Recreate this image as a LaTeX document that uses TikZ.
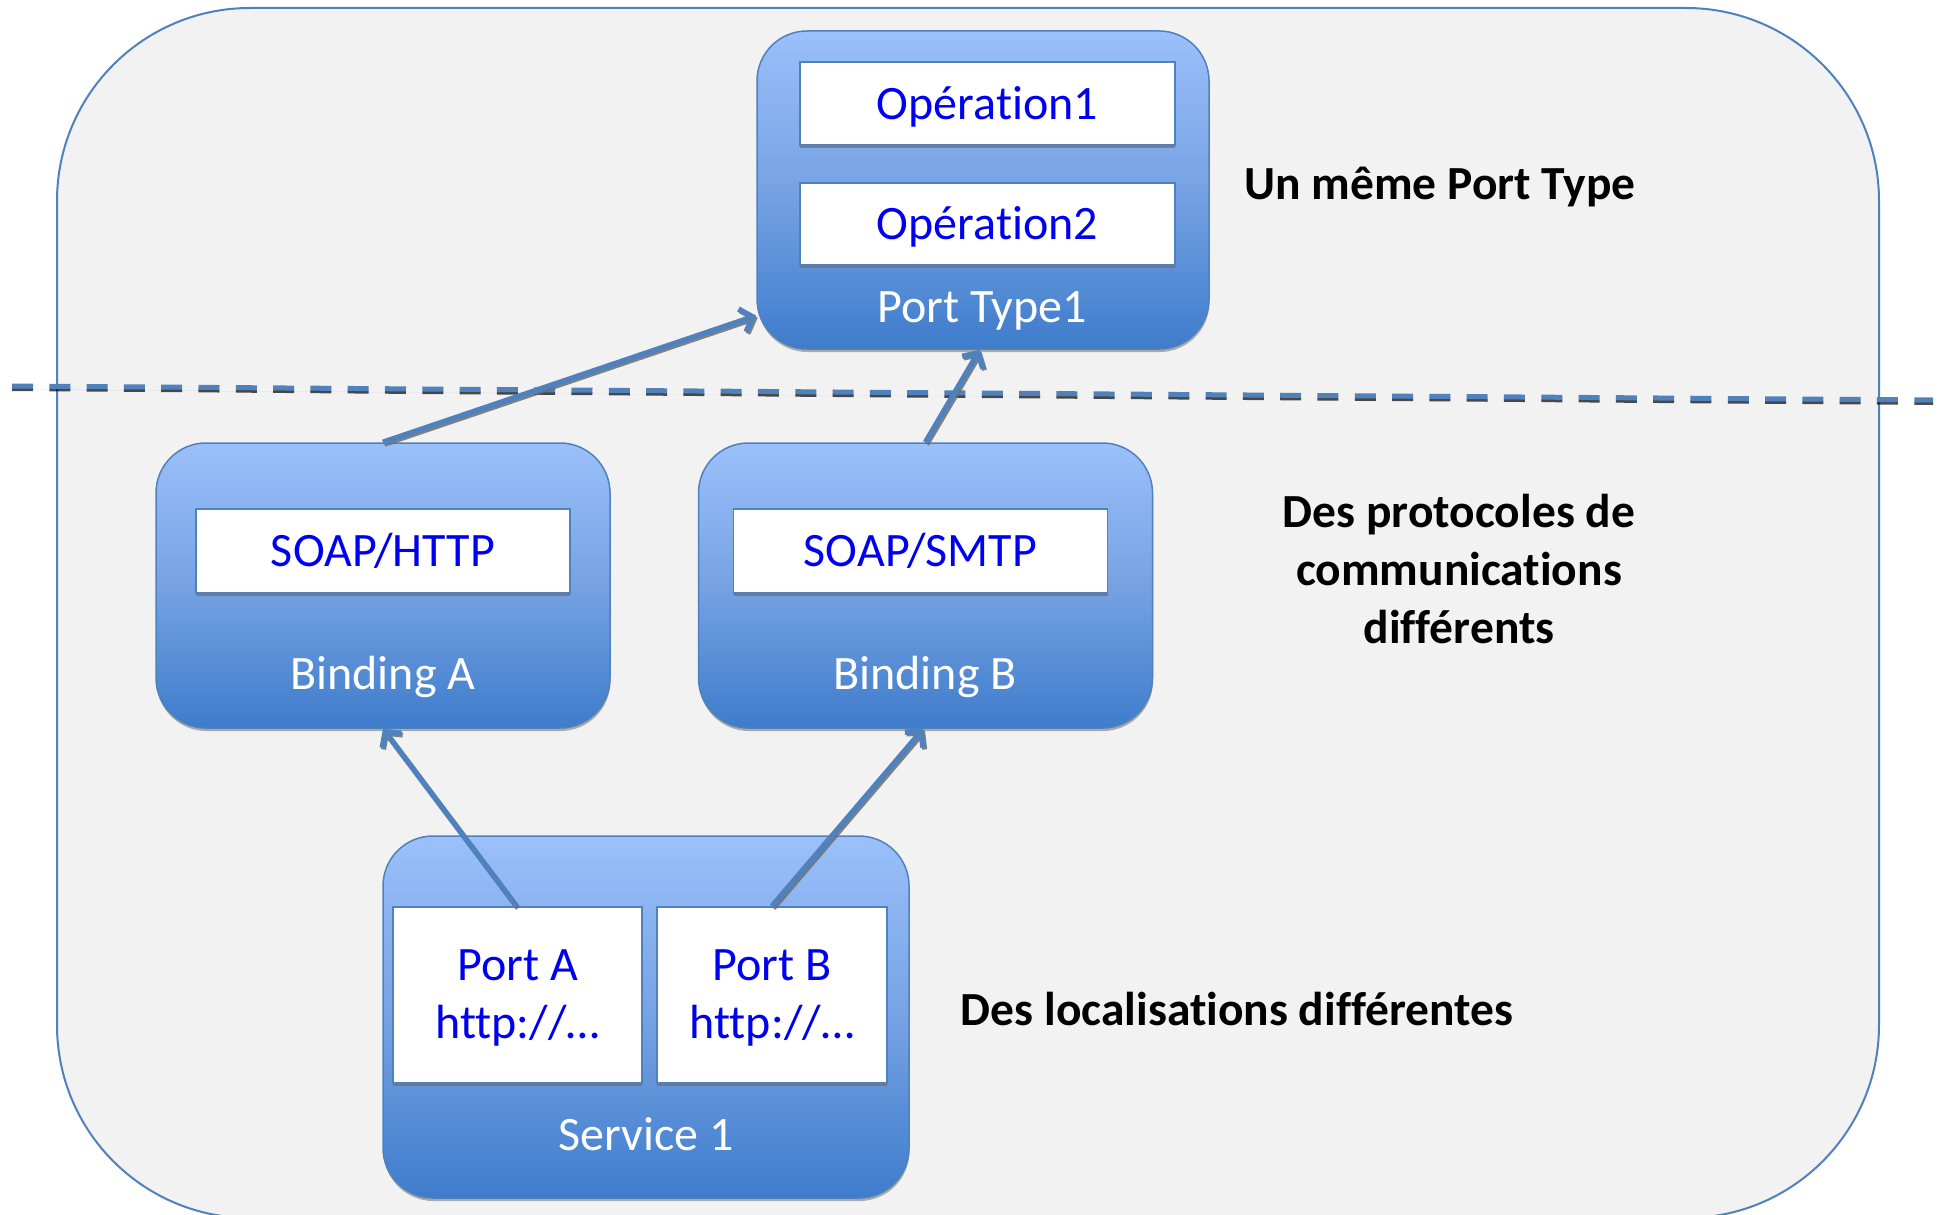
\documentclass[tikz,border=0pt]{standalone}
\usepackage{fontspec}
\setmainfont{Carlito}[Ligatures=NoCommon]
\usetikzlibrary{shadows,arrows.meta}
\definecolor{edgeblue}{RGB}{79,129,189}
\definecolor{lightblue}{RGB}{155,192,250}
\definecolor{midblue}{RGB}{118,162,228}
\definecolor{darkblue}{RGB}{62,124,203}
\definecolor{panel}{RGB}{242,242,242}
\definecolor{txtblue}{RGB}{0,0,240}
\definecolor{shade}{RGB}{110,110,110}

\begin{document}
\begin{tikzpicture}[x=1pt,y=-1pt,
  bigfont/.style={font=\fontsize{48}{58}\selectfont},
  container/.style={rounded corners=50pt, draw=edgeblue, line width=1.5pt,
    top color=lightblue, bottom color=darkblue, middle color=midblue,
    drop shadow={shadow xshift=0.5pt, shadow yshift=-3pt, opacity=0.55, fill=shade},
    inner sep=0pt},
  itembox/.style={draw=edgeblue, line width=1.5pt, fill=white, inner sep=0pt,
    bigfont, text=txtblue, align=center, text depth=2pt,
    drop shadow={shadow xshift=0pt, shadow yshift=-3pt, opacity=0.7, fill=shade}},
  caption/.style={bigfont, text=white, inner sep=0pt},
  note/.style={font=\fontsize{47.5}{58}\selectfont\bfseries, align=center, inner sep=0pt},
  link/.style={draw=edgeblue, line width=5.5pt,
    -{Straight Barb[length=11pt,width=24pt]},
    preaction={draw=shade, line width=5pt, opacity=0.85,
      -{Straight Barb[length=11pt,width=24pt]},
      transform canvas={xshift=1.5pt,yshift=-2pt}}},
]
\useasboundingbox (0,0) rectangle (1939,1215);
\clip (0,0) rectangle (1939,1215);

% outer panel
\path[fill=panel, draw=edgeblue, line width=2pt, rounded corners=193pt]
  (57,8) rectangle (1879,1218);

% divider
\coordinate (divL) at (12,386);
\coordinate (divR) at (1933,400);
\draw[shade, line width=3pt, dash pattern=on 21pt off 16.3pt, opacity=0.7]
  ([yshift=-3.5pt]divL) -- ([yshift=-3.5pt]divR);
\draw[edgeblue, line width=5pt, dash pattern=on 21pt off 16.3pt] (divL) -- (divR);

% port type
\node[container, minimum width=452pt, minimum height=318pt] (pt) at (983,190) {};
\node[itembox, minimum width=375pt, minimum height=83pt] (op1) at (987.5,103.5) {Opération1};
\node[itembox, minimum width=375pt, minimum height=82pt] (op2) at (987.5,224) {Opération2};
\node[caption] (ptl) at (982,310.5) {Port Type1};

% bindings
\node[container, minimum width=454pt, minimum height=285pt] (bA) at (383,585.5) {};
\node[itembox, minimum width=374pt, minimum height=84pt] (soapA) at (383,551) {SOAP/HTTP};
\node[caption] (bAl) at (383,676.5) {Binding A};

\node[container, minimum width=454pt, minimum height=285pt] (bB) at (925.5,585.5) {};
\node[itembox, minimum width=374pt, minimum height=84pt] (soapB) at (920.5,551) {SOAP/SMTP};
\node[caption] (bBl) at (925,676.5) {Binding B};

% service
\node[container, minimum width=526pt, minimum height=362pt] (svc) at (646,1017) {};
\node[itembox, minimum width=249pt, minimum height=176pt] (pA) at (517.5,995) {Port A\\http://…};
\node[itembox, minimum width=230pt, minimum height=176pt] (pB) at (772,995) {Port B\\http://…};
\node[caption] (svcl) at (646,1134) {Service 1};

% links
\draw[link] (bA.north) -- (pt.209);
\draw[link] (bB.north) -- ([xshift=-3pt]pt.south);
\draw[link] ([xshift=-1pt]pA.north) -- (bA.south);
\draw[link] (pB.north) -- ([xshift=-2pt]bB.south);

% side notes
\node[note] (n1) at (1440,187.5) {Un même Port Type};
\node[note] (n2) at (1459,569) {Des protocoles de\\communications\\différents};
\node[note] (n3) at (1237,1009) {Des localisations différentes};
\end{tikzpicture}
\end{document}
